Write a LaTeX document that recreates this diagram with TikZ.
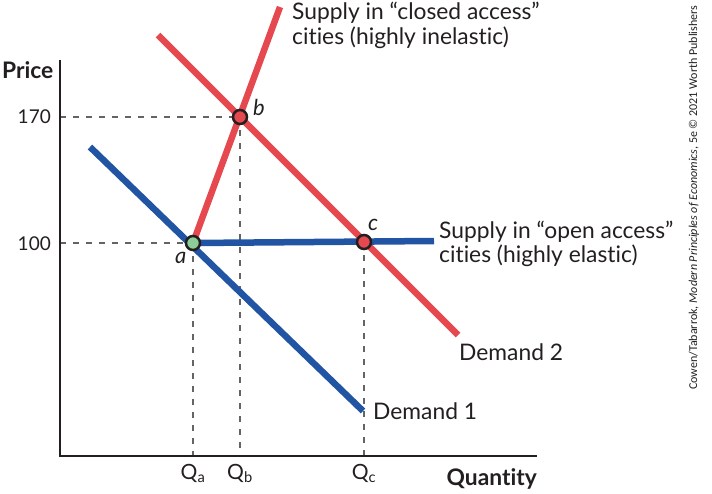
\documentclass[tikz,border=0pt]{standalone}
\usepackage{fontspec}
\setmainfont{Lato}[Ligatures=CommonOff]
\newfontfamily\notefont{Carlito}
\definecolor{dred}{RGB}{229,72,78}
\definecolor{dblue}{RGB}{33,84,162}
\definecolor{dgreen}{RGB}{140,206,152}
\definecolor{txt}{RGB}{35,31,32}
\definecolor{dashgray}{RGB}{100,100,100}
\begin{document}
\begin{tikzpicture}[x=1pt,y=-1pt,
  axisline/.style={draw=txt,line width=2pt},
  guide/.style={draw=dashgray,line width=1.1pt,dash pattern=on 6pt off 7pt},
  redcurve/.style={draw=dred,line width=6.5pt},
  bluecurve/.style={draw=dblue,line width=6.5pt},
  dot/.style={circle,draw=txt,line width=2.5pt,minimum size=14pt,inner sep=0pt},
  lbl/.style={text=txt,font=\fontsize{22.8}{26}\selectfont,inner sep=0pt},
  num/.style={text=txt,font=\fontsize{19}{22}\selectfont,inner sep=0pt},
  qlbl/.style={text=txt,font=\fontsize{21}{24}\selectfont,inner sep=0pt},
  ptlbl/.style={text=txt,font=\fontsize{22}{24}\selectfont\itshape,inner sep=0pt},
  axlbl/.style={text=txt,font=\fontsize{22.8}{26}\selectfont\bfseries,inner sep=0pt}]
\useasboundingbox (0,0) rectangle (712,493);
% coordinates
\coordinate (O) at (60,456);
\coordinate (Ytop) at (60,60);
\coordinate (Xend) at (537,456);
\coordinate (pa) at (193,243);
\coordinate (pb) at (240,117);
\coordinate (pc) at (364,242);
\coordinate (y170) at (60,117);
\coordinate (y100) at (60,243);
\coordinate (xa) at (193,456);
\coordinate (xb) at (240,456);
\coordinate (xc) at (364,456);
\coordinate (d1s) at (90,147);
\coordinate (d1e) at (363,411);
\coordinate (d2s) at (158,35);
\coordinate (d2e) at (458,335);
\coordinate (sce) at (280,7);
\coordinate (soe) at (434,241);
% guides
\draw[guide] (y170) -- (pb);
\draw[guide] (y100) -- (pa);
\draw[guide] (pb) -- (xb);
\draw[guide] (pa) -- (xa);
\draw[guide] (pc) -- (xc);
% axes
\draw[axisline] (Ytop) -- (O) -- (Xend);
% curves
\draw[bluecurve] (d1s) -- (d1e);
\draw[redcurve] (d2s) -- (d2e);
\draw[redcurve] (pa) -- (sce);
\draw[bluecurve] (pa) -- (soe);
% dots
\node[dot,fill=dgreen] (A) at (pa) {};
\node[dot,fill=dred] (B) at (pb) {};
\node[dot,fill=dred] (C) at (pc) {};
% point labels
\node[ptlbl,anchor=base west] (la) at (175,263) {a};
\node[ptlbl,anchor=base west] (lb) at (253,115) {b};
\node[ptlbl,anchor=base west] (lc) at (368,230) {c};
% axis labels
\node[axlbl,anchor=base west] (price) at (2,78) {Price};
\node[axlbl,anchor=base east] (qty) at (537,485) {Quantity};
\node[num,anchor=base east] (n170) at (51,123) {170};
\node[num,anchor=base east] (n100) at (51,250) {100};
\node[qlbl,anchor=base] (qa) at (xa|-0,479) {Q\textsubscript{a}};
\node[qlbl,anchor=base] (qb) at (xb|-0,479) {Q\textsubscript{b}};
\node[qlbl,anchor=base] (qc) at (xc|-0,479) {Q\textsubscript{c}};
% curve labels
\node[lbl,anchor=base west] (sc1) at (292,19) {Supply in “closed access”};
\node[lbl,anchor=base west] (sc2) at (292,44) {cities (highly inelastic)};
\node[lbl,anchor=base west] (so1) at (439,238) {Supply in “open access”};
\node[lbl,anchor=base west] (so2) at (439,262) {cities (highly elastic)};
\node[lbl,anchor=base west] (dm2) at (459,360) {Demand 2};
\node[lbl,anchor=base west] (dm1) at (373,419) {Demand 1};
% credit
\node[text=txt,font=\notefont\fontsize{12}{14}\selectfont,inner sep=0pt,rotate=90,anchor=base west] (credit) at (697,390) {Cowen/Tabarrok, \textit{Modern Principles of Economics}, 5e © 2021 Worth Publishers};
\end{tikzpicture}
\end{document}
